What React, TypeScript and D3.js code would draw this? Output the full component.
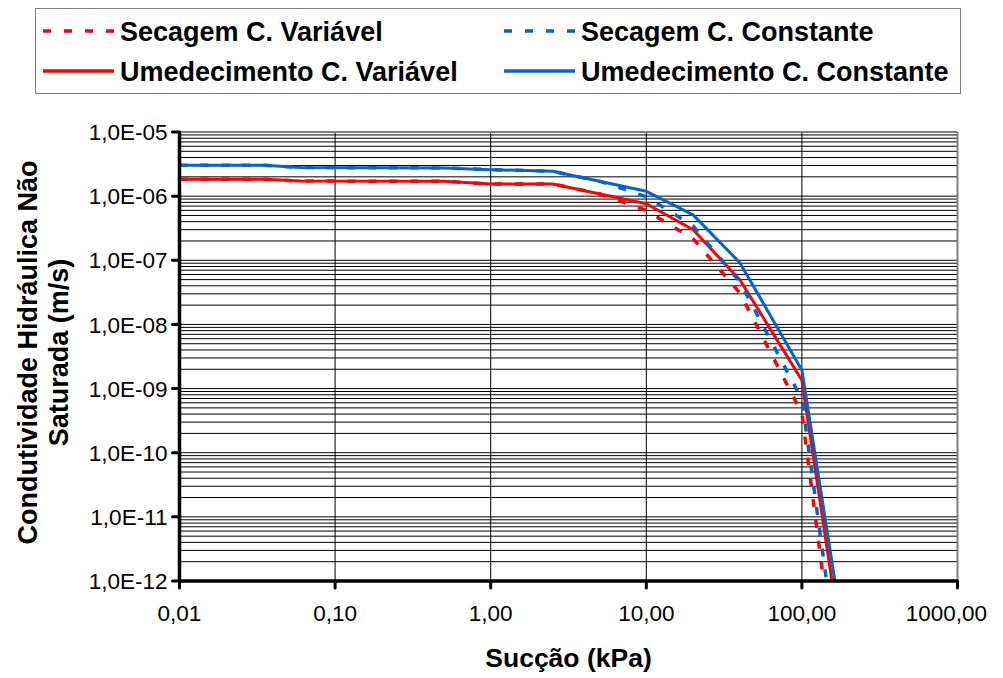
import * as d3 from 'd3'

// suction (kPa) and unsaturated hydraulic conductivity (m/s)
const suctionSecCV = [0.01, 0.035, 0.06, 0.5, 1, 2.5, 5, 10, 20, 40, 100, 138]
const kSecCV = [1.83e-6, 1.83e-6, 1.72e-6, 1.7e-6, 1.55e-6, 1.55e-6, 1.09e-6, 5.98e-7, 2.16e-7, 3.08e-8, 4.1e-10, 1e-12]

const suctionUmCV = [0.01, 0.035, 0.06, 0.5, 1, 2.5, 10, 20, 40, 100, 156]
const kUmCV = [1.83e-6, 1.83e-6, 1.72e-6, 1.7e-6, 1.55e-6, 1.55e-6, 7.6e-7, 2.99e-7, 4.93e-8, 1.35e-9, 1e-12]

const suctionSecCC = [0.01, 0.035, 0.06, 0.5, 1, 2.5, 5, 10, 20, 40, 100, 144]
const kSecCC = [3.03e-6, 3.03e-6, 2.8e-6, 2.75e-6, 2.59e-6, 2.44e-6, 1.71e-6, 9.8e-7, 3.44e-7, 4.59e-8, 6.8e-10, 1e-12]

const suctionUmCC = [0.01, 0.035, 0.06, 0.5, 1, 2.5, 10, 20, 40, 100, 163]
const kUmCC = [3.03e-6, 3.03e-6, 2.8e-6, 2.75e-6, 2.59e-6, 2.44e-6, 1.19e-6, 5.1e-7, 9.1e-8, 1.93e-9, 1e-12]

const xTicks = [0.01, 0.1, 1, 10, 100, 1000]
const xTickLabels = ['0,01', '0,10', '1,00', '10,00', '100,00', '1000,00']
const yTicks = [1e-12, 1e-11, 1e-10, 1e-9, 1e-8, 1e-7, 1e-6, 1e-5]
const yTickLabels = ['1,0E-12', '1,0E-11', '1,0E-10', '1,0E-09', '1,0E-08', '1,0E-07', '1,0E-06', '1,0E-05']

const series = [
  { label: 'Umedecimento C. Variável', x: suctionUmCV, y: kUmCV, color: '#ff0000', dashed: false },
  { label: 'Umedecimento C. Constante', x: suctionUmCC, y: kUmCC, color: '#0066cc', dashed: false },
  { label: 'Secagem C. Variável', x: suctionSecCV, y: kSecCV, color: '#ff0000', dashed: true },
  { label: 'Secagem C. Constante', x: suctionSecCC, y: kSecCC, color: '#0066cc', dashed: true },
]

const W = 1003
const H = 678
const font = '"Liberation Sans", Arial, sans-serif'
const dash = '8 13'

export default function App() {
  const x = d3.scaleLog().domain([0.01, 1000]).range([179.5, 957.5])
  const y = d3.scaleLog().domain([1e-12, 1e-5]).range([581, 132])
  const [x0, x1] = x.range()
  const [yb, yt] = y.range()

  // minor gridlines: 1..9 in each decade
  const hLines: number[] = []
  for (let e = -12; e < -5; e++) {
    for (let m = 1; m < 10; m++) hLines.push(m * Math.pow(10, e))
  }

  const line = d3.line<[number, number]>().x(d => x(d[0])).y(d => y(d[1]))

  const legendRows = [
    { label: 'Secagem C. Variável', color: '#ff0000', dashed: true, lx: 43, ly: 31 },
    { label: 'Secagem C. Constante', color: '#0066cc', dashed: true, lx: 504, ly: 31 },
    { label: 'Umedecimento C. Variável', color: '#ff0000', dashed: false, lx: 43, ly: 71 },
    { label: 'Umedecimento C. Constante', color: '#0066cc', dashed: false, lx: 504, ly: 71 },
  ]

  return (
    <svg width={W} height={H} style={{ position: 'absolute', left: 0, top: 0, background: '#fff' }} fontFamily={font}>
      <defs>
        <clipPath id="plot">
          <rect x={x0} y={yt} width={x1 - x0} height={yb - yt} />
        </clipPath>
      </defs>

      {/* legend */}
      <rect x={35.5} y={8.5} width={925} height={85} fill="#fff" stroke="#808080" strokeWidth={1} />
      {legendRows.map(r => (
        <g key={r.label}>
          <line x1={r.lx} x2={r.lx + 71} y1={r.ly} y2={r.ly} stroke={r.color} strokeWidth={3.5}
            strokeDasharray={r.dashed ? dash : undefined} />
          <text x={r.lx + 77} y={r.ly + 9.5} fontSize={27} fontWeight="bold">{r.label}</text>
        </g>
      ))}

      {/* grid */}
      {hLines.map(v => (
        <line key={v} x1={x0} x2={x1} y1={y(v)} y2={y(v)} stroke="#000" strokeWidth={1} />
      ))}
      {xTicks.slice(1, -1).map(v => (
        <line key={v} x1={x(v)} x2={x(v)} y1={yt} y2={yb} stroke="#000" strokeWidth={1} />
      ))}
      <line x1={x0} x2={x1} y1={yt} y2={yt} stroke="#808080" strokeWidth={2} />
      <line x1={x1} x2={x1} y1={yt} y2={yb} stroke="#808080" strokeWidth={2} />

      {/* curves */}
      <g clipPath="url(#plot)">
        {series.map(s => (
          <path key={s.label} d={line(s.x.map((v, i) => [v, s.y[i]] as [number, number])) || ''}
            fill="none" stroke={s.color} strokeWidth={s.dashed ? 3.5 : 3}
            strokeDasharray={s.dashed ? dash : undefined} strokeLinejoin="round" />
        ))}
      </g>

      {/* axes */}
      <line x1={x0} x2={x0} y1={yt} y2={yb} stroke="#000" strokeWidth={3.5} />
      <line x1={x0} x2={x1} y1={yb} y2={yb} stroke="#000" strokeWidth={3.5} />
      {yTicks.map((v, i) => (
        <g key={v}>
          <line x1={x0 - 7} x2={x0} y1={y(v)} y2={y(v)} stroke="#000" strokeWidth={3} strokeLinecap="round" />
          <text x={x0 - 12} y={y(v)} dy="0.36em" textAnchor="end" fontSize={22.5}>{yTickLabels[i]}</text>
        </g>
      ))}
      {xTicks.map((v, i) => {
        const last = i === xTicks.length - 1
        return (
          <g key={v}>
            <line x1={x(v)} x2={x(v)} y1={yb} y2={yb + 7} stroke="#000" strokeWidth={3} strokeLinecap="round" />
            <text x={last ? 987 : x(v)} y={yb + 40} textAnchor={last ? 'end' : 'middle'} fontSize={22.5}>
              {xTickLabels[i]}
            </text>
          </g>
        )
      })}

      {/* axis titles */}
      <text x={(x0 + x1) / 2} y={667} textAnchor="middle" fontSize={26.5} fontWeight="bold">Sucção (kPa)</text>
      <g transform={`translate(37,${(yt + yb) / 2 - 4}) rotate(-90)`}>
        <text x={0} y={0} textAnchor="middle" fontSize={27} fontWeight="bold">Condutividade Hidráulica Não</text>
        <text x={0} y={31} textAnchor="middle" fontSize={27} fontWeight="bold">Saturada (m/s)</text>
      </g>
    </svg>
  )
}
